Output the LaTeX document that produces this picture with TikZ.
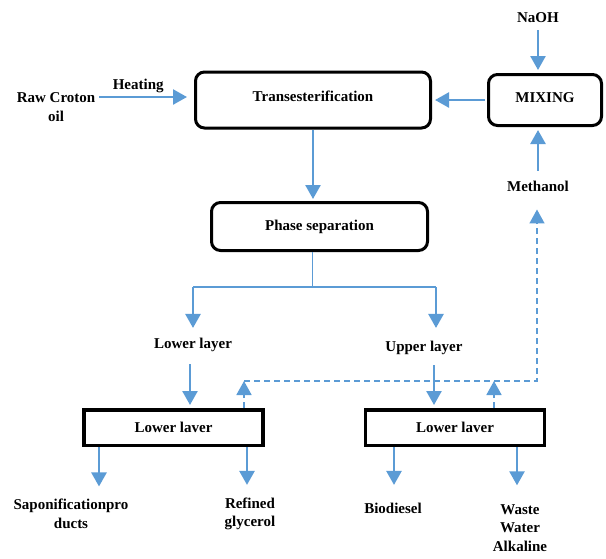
\documentclass[tikz,border=0pt]{standalone}
\usepackage{fontspec}
\setmainfont{Liberation Serif}
\usetikzlibrary{arrows.meta}
\definecolor{flowblue}{RGB}{91,155,213}

\begin{document}
\begin{tikzpicture}[x=1pt,y=-1pt,
    every node/.style={font=\fontsize{15}{18.5}\selectfont\bfseries, inner sep=0pt, align=center, text=black},
    roundbox/.style={draw=black, line width=3pt, rounded corners=9pt},
    flatbox/.style={draw=black, line width=3.5pt},
    flow/.style={flowblue, line width=2.5pt, -{Triangle[width=15pt,length=14pt]}},
    thinflow/.style={flowblue, line width=1.5pt},
    back/.style={flow, line width=1.8pt, dash pattern=on 6pt off 4pt}]
    \useasboundingbox (0,0) rectangle (606,558);

    % boxes
    \node[roundbox, minimum width=235pt, minimum height=56pt, text depth=8pt] (trans) at (313,100) {Transesterification};
    \node[roundbox, minimum width=113pt, minimum height=51pt, text depth=5pt] (mix) at (545,100) {MIXING};
    \node[roundbox, minimum width=216pt, minimum height=48pt] (phase) at (319.5,226.5) {Phase separation};
    \node[flatbox, minimum width=179pt, minimum height=35.5pt] (lbox) at (173.5,427.5) {Lower laver};
    \node[flatbox, minimum width=179pt, minimum height=35.5pt] (rbox) at (455,427.5) {Lower laver};

    % free texts
    \node (raw) at (56,107) {Raw Croton\\oil};
    \node (naoh) at (538,18) {NaOH};
    \node (meth) at (538,186) {Methanol};
    \node (lower) at (193,345) {Lower layer};
    \node (upper) at (424,348) {Upper layer};
    \node (sapo) at (71,514) {Saponificationpro\\ducts};
    \node (glyc) at (250,514) {Refined\\glycerol};
    \node (bio) at (393,508) {Biodiesel};
    \node (waste) at (520,528) {Waste\\Water\\Alkaline};

    \coordinate (split) at (312,287);
    \coordinate (lsplit) at (193,287);
    \coordinate (rsplit) at (436,287);
    \coordinate (recycle) at (537,381);
    \coordinate (lret) at (244,381);

    % feed side
    \draw[flow, shorten <=4pt] (raw.east |- 0,97) -- node[above=3pt, xshift=-3pt] (heat) {Heating} ([xshift=-7pt]trans.west |- 0,97);
    \draw[flow, shorten <=2pt, shorten >=3pt] (mix.west) -- (trans.east);
    \draw[flow, shorten <=7pt, shorten >=3pt] (naoh.south) -- (naoh.south |- mix.north);
    \draw[flow, shorten <=10pt, shorten >=3pt] (meth.north) -- (meth.north |- mix.south);
    \draw[flow, shorten >=2pt] (trans.south) -- (trans.south |- phase.north);

    % separation
    \draw[flowblue, line width=1pt] (phase.south -| split) -- (split);
    \draw[thinflow] (lsplit) -- (rsplit);
    \draw[flow, shorten >=10pt] (lsplit) -- (lsplit |- lower.north);
    \draw[flow, shorten >=13pt] (rsplit) -- (rsplit |- upper.north);
    \draw[flow, shorten <=12pt, shorten >=3pt] ([xshift=-3pt]lower.south) -- ([xshift=-3pt]lower.south |- lbox.north);
    \draw[flow, shorten <=10pt, shorten >=3pt] ([xshift=10pt]upper.south) -- ([xshift=10pt]upper.south |- rbox.north);

    % recycle line
    \draw[back] (lbox.north -| lret) -- (lret);
    \draw[back] (rbox.north -| 494,0) -- (recycle -| 494,0);
    \draw[back, line width=1.5pt, shorten >=18pt] (lret) -- (recycle) -- (recycle |- meth.south);

    % products
    \draw[flow, shorten >=12.7pt] ([xshift=-74.5pt]lbox.south) -- ([xshift=-74.5pt]lbox.south |- sapo.north);
    \draw[flow, shorten >=12.7pt] ([xshift=73.5pt]lbox.south) -- ([xshift=73.5pt]lbox.south |- glyc.north);
    \draw[flow, shorten >=17.6pt] ([xshift=-61pt]rbox.south) -- ([xshift=-61pt]rbox.south |- bio.north);
    \draw[flow, shorten >=19pt] ([xshift=62pt]rbox.south) -- ([xshift=62pt]rbox.south |- waste.north);

\end{tikzpicture}
\end{document}
